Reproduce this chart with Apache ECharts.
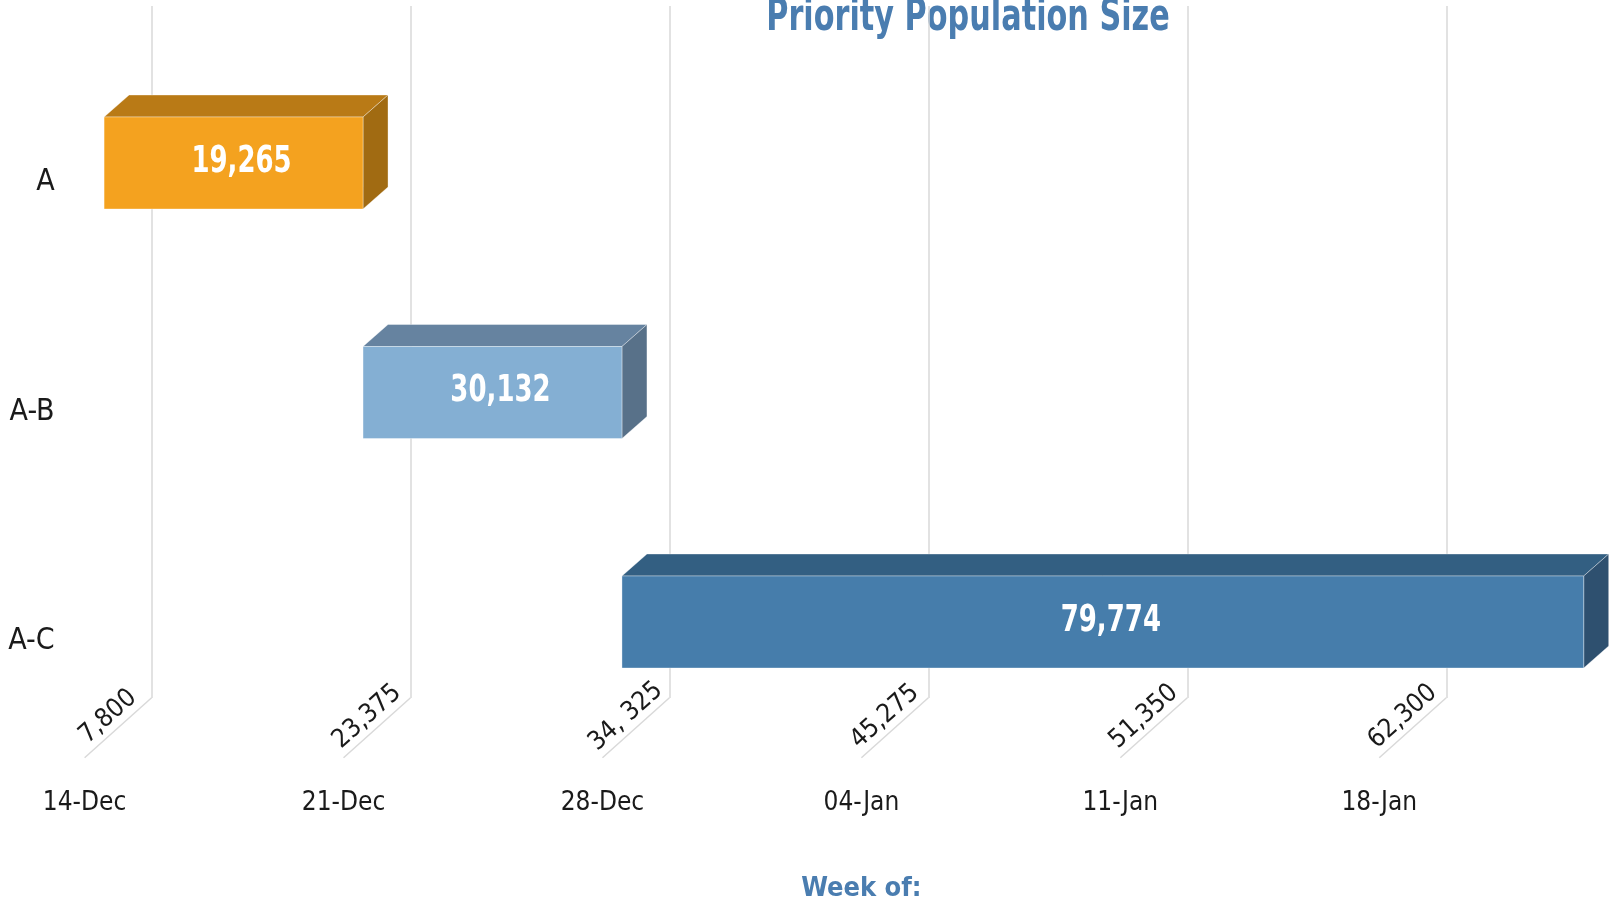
<!DOCTYPE html>
<html>
<head>
<meta charset="utf-8">
<script src="https://cdn.jsdelivr.net/npm/echarts@6/dist/echarts.min.js"></script>
<style>
  html, body { margin: 0; padding: 0; background: #fff; }
  #chart { width: 1617px; height: 904px; }
</style>
</head>
<body>
<div id="chart"></div>
<script>
// data
var categories = ['A', 'A-B', 'A-C'];
var startDay = [0, 7, 14];          // days after 14-Dec
var endDay = [7, 14, 40];
var population = [19265, 30132, 79774];
var weekLabels = ['14-Dec', '21-Dec', '28-Dec', '04-Jan', '11-Jan', '18-Jan'];
var tickDays = [0, 7, 14, 21, 28, 35];
var tickValues = ['7,800', '23,375', '34, 325', '45,275', '51,350', '62,300'];

var FONT = "'DejaVu Sans Condensed', 'DejaVu Sans', sans-serif";
var BLUE = '#4a7db0';
var palette = [
  { front: '#f4a21f', top: '#b97a16', side: '#a16b12' },
  { front: '#84afd3', top: '#6683a0', side: '#587189' },
  { front: '#467dab', top: '#335f82', side: '#2e506f' }
];
// 3d depth offsets
var FLOOR_DX = 67, FLOOR_DY = -60;
var BAR_OFF_X = 19.5, BAR_OFF_Y = -19.5;
var BAR_DX = 25, BAR_DY = -22;
var BAR_H = 92;
var PX_DAY = 36.99;
var AXIS_MAX = 42;

var barData = categories.map(function (c, i) {
  return [startDay[i], endDay[i], i, population[i]];
});
var tickData = tickDays.map(function (d, i) { return [d, 0, tickValues[i]]; });

var myChart = echarts.init(document.getElementById('chart'));
option = {
  animation: false,
  graphic: [{
    type: 'text',
    x: 968,
    y: -3,
    scaleX: 0.765,
    silent: true,
    style: {
      text: 'Priority Population Size',
      fontFamily: FONT,
      fontSize: 44,
      fontWeight: 'bold',
      fill: BLUE,
      align: 'center',
      verticalAlign: 'top'
    }
  }],
  grid: [
    { left: 84.6, top: 67.75, width: PX_DAY * AXIS_MAX, height: 688.5, outerBoundsMode: 'none' },
    { left: 84.6 + FLOOR_DX, top: 6, width: PX_DAY * AXIS_MAX, height: 692, outerBoundsMode: 'none' }
  ],
  xAxis: [{
    type: 'value',
    gridIndex: 0,
    min: 0,
    max: AXIS_MAX,
    interval: 7,
    axisLine: { show: false },
    axisTick: { show: false },
    splitLine: { show: false },
    axisLabel: {
      margin: 34,
      fontFamily: FONT,
      fontSize: 26,
      color: '#1a1a1a',
      formatter: function (v) { return weekLabels[v / 7] || ''; }
    },
    name: 'Week of:',
    nameLocation: 'middle',
    nameGap: 119,
    nameTextStyle: { fontFamily: FONT, fontSize: 27, fontWeight: 'bold', color: BLUE }
  }, {
    type: 'value',
    gridIndex: 1,
    min: 0,
    max: AXIS_MAX,
    interval: 7,
    axisLine: { show: false },
    axisTick: { show: false },
    axisLabel: { show: false },
    splitLine: { show: true, lineStyle: { color: '#d9d9d9', width: 1.5 } }
  }],
  yAxis: [{
    type: 'category',
    gridIndex: 0,
    data: categories,
    inverse: true,
    axisLine: { show: false },
    axisTick: { show: false },
    axisLabel: { margin: 30, padding: [7, 0, 0, 0], fontFamily: FONT, fontSize: 30, color: '#1a1a1a' }
  }, {
    type: 'value',
    gridIndex: 1,
    show: false
  }],
  series: [{
    // floor lines + rotated values
    type: 'custom',
    xAxisIndex: 0,
    yAxisIndex: 0,
    clip: false,
    silent: true,
    data: tickData,
    renderItem: function (params, api) {
      var cs = params.coordSys;
      var x = api.coord([api.value(0), 0])[0];
      var y = cs.y + cs.height + 1.5;
      var ang = Math.atan2(-FLOOR_DY, FLOOR_DX);
      var len = Math.sqrt(FLOOR_DX * FLOOR_DX + FLOOR_DY * FLOOR_DY);
      var nx = FLOOR_DY / len, ny = -FLOOR_DX / len;  // perpendicular, up-left
      var mx = x + FLOOR_DX / 2 + nx * 15;
      var my = y + FLOOR_DY / 2 + ny * 15;
      return {
        type: 'group',
        children: [{
          type: 'line',
          shape: { x1: x, y1: y, x2: x + FLOOR_DX, y2: y + FLOOR_DY },
          style: { stroke: '#d9d9d9', lineWidth: 1.5 }
        }, {
          type: 'text',
          x: mx,
          y: my,
          rotation: ang,
          style: {
            text: tickValues[params.dataIndex],
            fontFamily: FONT,
            fontSize: 26,
            fill: '#1a1a1a',
            align: 'center',
            verticalAlign: 'middle'
          }
        }]
      };
    }
  }, {
    type: 'custom',
    xAxisIndex: 0,
    yAxisIndex: 0,
    clip: false,
    data: barData,
    encode: { x: [0, 1], y: 2 },
    renderItem: function (params, api) {
      var i = api.value(2);
      var s = api.coord([api.value(0), i]);
      var e = api.coord([api.value(1), i]);
      var c = palette[i];
      var x0 = s[0] + BAR_OFF_X, x1 = e[0] + BAR_OFF_X;
      var yc = s[1] + BAR_OFF_Y;
      var yt = yc - BAR_H / 2, yb = yc + BAR_H / 2;
      var edge = 'rgba(255,255,255,0.35)';
      return {
        type: 'group',
        children: [{
          type: 'polygon',
          shape: { points: [[x0, yt], [x1, yt], [x1 + BAR_DX, yt + BAR_DY], [x0 + BAR_DX, yt + BAR_DY]] },
          style: { fill: c.top, stroke: edge, lineWidth: 1 }
        }, {
          type: 'polygon',
          shape: { points: [[x1, yt], [x1 + BAR_DX, yt + BAR_DY], [x1 + BAR_DX, yb + BAR_DY], [x1, yb]] },
          style: { fill: c.side, stroke: edge, lineWidth: 1 }
        }, {
          type: 'rect',
          shape: { x: x0, y: yt, width: x1 - x0, height: BAR_H },
          style: { fill: c.front, stroke: edge, lineWidth: 1 }
        }, {
          type: 'text',
          x: (x0 + x1) / 2 + 8,
          y: yc - 1,
          scaleX: 0.76,
          style: {
            text: echarts.format.addCommas(api.value(3)),
            fontFamily: FONT,
            fontSize: 38,
            fontWeight: 'bold',
            fill: '#ffffff',
            align: 'center',
            verticalAlign: 'middle'
          }
        }]
      };
    }
  }]
};
myChart.setOption(option);
</script>
</body>
</html>
